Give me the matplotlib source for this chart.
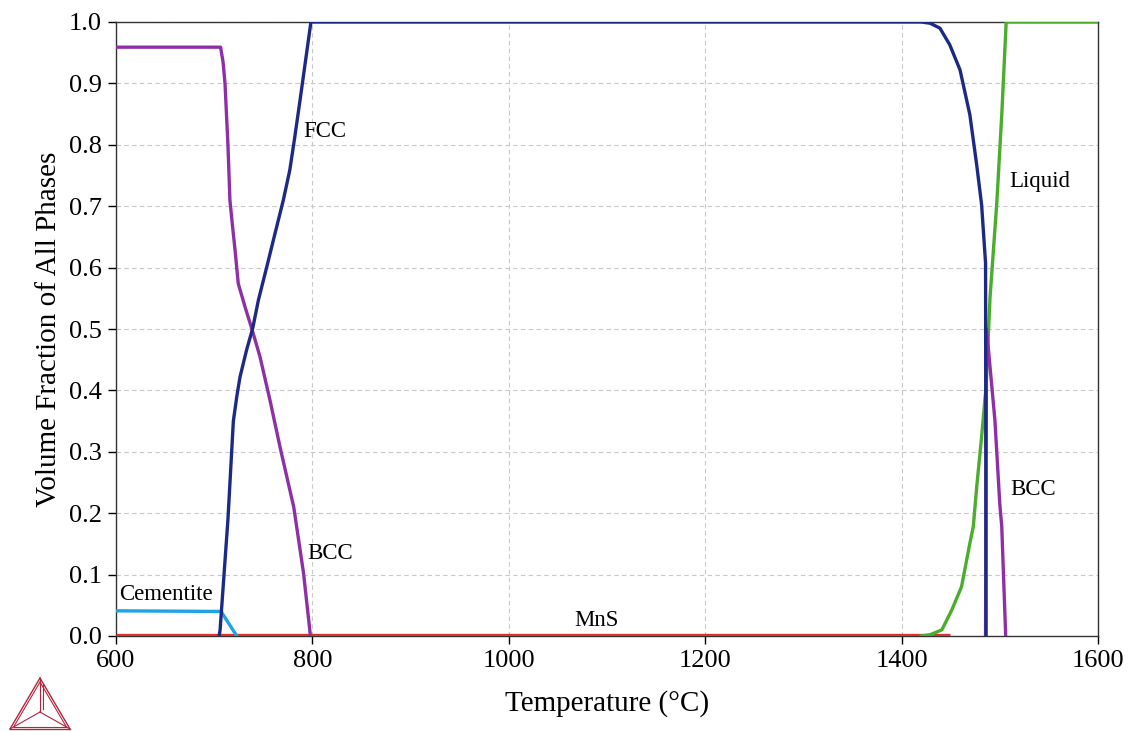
import matplotlib
matplotlib.use("Agg")
import matplotlib.pyplot as plt
from matplotlib.lines import Line2D
import numpy as np

plt.rcParams['font.family'] = ['Liberation Serif', 'DejaVu Serif']

# ---- data (temperature in °C, volume fraction) ----
T_fcc = [705, 706, 714, 719.5, 723, 726.3, 733, 739.2, 745, 753.5, 762, 770.4,
         777, 782, 787, 798.5,
         1420, 1429, 1439, 1449, 1459.5, 1469.5, 1476.5, 1481.5, 1485.5, 1486]
f_fcc = [0.0, 0.01, 0.19, 0.35, 0.39, 0.422, 0.466, 0.501, 0.547, 0.601, 0.656, 0.71,
         0.759, 0.812, 0.868, 1.0,
         1.0, 0.998, 0.99, 0.963, 0.922, 0.849, 0.767, 0.702, 0.607, 0.0]

T_bcc_low = [600, 706.5, 709, 711, 714, 716, 718.5, 721.2, 724.5, 731.4, 738.2, 746.6,
             756.8, 767, 781, 791, 798]
f_bcc_low = [0.959, 0.959, 0.935, 0.90, 0.80, 0.71, 0.67, 0.629, 0.574, 0.536, 0.501,
             0.455, 0.384, 0.308, 0.21, 0.102, 0.0]
T_bcc_high = [1485.5, 1486.5, 1495, 1500, 1502, 1506]
f_bcc_high = [0.0, 0.5, 0.352, 0.215, 0.178, 0.0]

T_liq = [1420, 1429, 1441, 1451, 1461, 1469.5, 1473, 1476.5, 1481.5, 1486, 1490,
         1497, 1502, 1506.5, 1600]
f_liq = [0.0, 0.002, 0.01, 0.042, 0.08, 0.151, 0.178, 0.243, 0.325, 0.406, 0.55,
         0.707, 0.849, 1.0, 1.0]

T_cem = [600, 707, 723]
f_cem = [0.041, 0.040, 0.0]

T_mns = [600, 1449]
f_mns = [0.002, 0.002]

labels = ["FCC", "BCC", "Cementite", "MnS", "Liquid", "BCC"]
label_T = [813, 818, 651, 1089, 1541, 1534]
label_f = [0.822, 0.134, 0.067, 0.026, 0.741, 0.238]

x_ticks = [600, 800, 1000, 1200, 1400, 1600]
y_ticks = [0.0, 0.1, 0.2, 0.3, 0.4, 0.5, 0.6, 0.7, 0.8, 0.9, 1.0]

# ---- colours ----
c_fcc = "#1c2a86"
c_bcc = "#8e2fa8"
c_liq = "#4aad2c"
c_cem = "#1fa3e3"
c_mns = "#e0302c"

fig = plt.figure(figsize=(11.35, 7.31), dpi=100)
ax = fig.add_axes([116/1135, 1-636/731, (1098-116)/1135, (636-22)/731])

lw = 2.4
ax.plot(T_mns, f_mns, color=c_mns, lw=lw, zorder=3, solid_capstyle='butt')
ax.plot(T_cem, f_cem, color=c_cem, lw=lw, zorder=3)
ax.plot(T_liq, f_liq, color=c_liq, lw=lw, zorder=3)
ax.plot(T_bcc_low, f_bcc_low, color=c_bcc, lw=lw, zorder=4)
ax.plot(T_bcc_high, f_bcc_high, color=c_bcc, lw=lw, zorder=4)
ax.plot(T_fcc, f_fcc, color=c_fcc, lw=lw, zorder=5)

ax.set_xlim(600, 1600)
ax.set_ylim(0, 1.0)
ax.set_xticks(x_ticks)
ax.set_yticks(y_ticks)
ax.set_xticklabels([str(t) for t in x_ticks])
ax.set_yticklabels([f"{t:.1f}" for t in y_ticks])
ax.tick_params(direction='out', length=6, width=1, labelsize=19, pad=4)
ax.grid(True, color='#c8c8c8', linestyle=(0, (4, 3)), linewidth=0.8)
ax.set_axisbelow(True)
for s in ax.spines.values():
    s.set_color('#333333')
    s.set_linewidth(1.0)

ax.set_xlabel("Temperature (°C)", fontsize=21, labelpad=13)
ax.set_ylabel("Volume Fraction of All Phases", fontsize=21, labelpad=5)

for lab, T, f in zip(labels, label_T, label_f):
    ax.text(T, f, lab, fontsize=16.5, ha='center', va='center', zorder=6)

# Thermo-Calc style logo (decoration)
H = 731
col = "#b4243c"
A = (40, H-678); B = (10, H-729); C = (70, H-729); G = (40, H-712)
def seg(p, q, lw=1.0):
    fig.add_artist(Line2D([p[0], q[0]], [p[1], q[1]], transform=None,
                          color=col, lw=lw))
for p, q in [(A, B), (B, C), (C, A)]:
    seg(p, q)
inset = 0.12
Ai = (A[0] + (G[0]-A[0])*inset, A[1] + (G[1]-A[1])*inset)
Bi = (B[0] + (G[0]-B[0])*inset, B[1] + (G[1]-B[1])*inset)
Ci = (C[0] + (G[0]-C[0])*inset, C[1] + (G[1]-C[1])*inset)
for p, q in [(Ai, Bi), (Bi, Ci), (Ci, Ai)]:
    seg(p, q, 0.8)
for v in (A, B, C):
    seg(v, G, 0.8)
G2 = (G[0]+3, G[1]+3)
seg((A[0]+3, A[1]-6), G2, 0.8)

fig.savefig("out.png", dpi=100)
